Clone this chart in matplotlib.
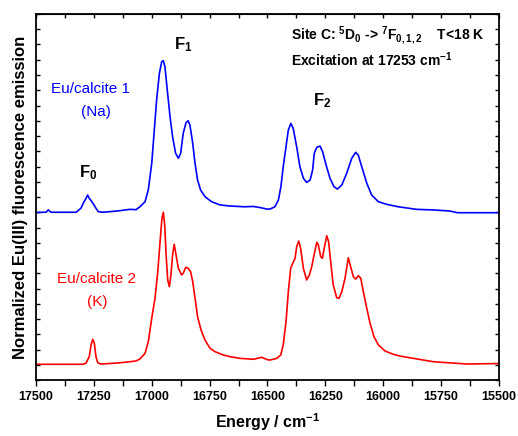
import matplotlib
matplotlib.use("Agg")
import matplotlib.pyplot as plt
from matplotlib.ticker import MultipleLocator, NullFormatter

plt.rcParams['font.family'] = 'Liberation Sans'
plt.rcParams['mathtext.default'] = 'regular'

# Eu/calcite 1 (Na) spectrum, offset upward
energy_na = [17500, 17470, 17457, 17447, 17435, 17400, 17327, 17306, 17296, 17284,
             17277, 17270, 17262, 17252, 17241, 17231, 17212, 17150, 17094, 17068,
             17051, 17029, 17015, 17000, 16990, 16979, 16967, 16957, 16950, 16943,
             16933, 16921, 16910, 16897, 16885, 16875, 16864, 16852, 16843, 16835,
             16823, 16813, 16802, 16789, 16770, 16741, 16705, 16662, 16600, 16561,
             16530, 16503, 16489, 16468, 16453, 16442, 16432, 16420, 16410, 16399,
             16389, 16374, 16360, 16345, 16331, 16316, 16305, 16298, 16287, 16273,
             16262, 16247, 16230, 16213, 16198, 16179, 16158, 16136, 16119, 16108,
             16093, 16071, 16050, 16021, 15985, 15935, 15856, 15780, 15712, 15680,
             15500]
emission_na = [1.098, 1.100, 1.100, 1.115, 1.100, 1.100, 1.100, 1.126, 1.159, 1.191,
               1.213, 1.191, 1.176, 1.154, 1.126, 1.104, 1.100, 1.108, 1.119, 1.117,
               1.136, 1.169, 1.246, 1.421, 1.618, 1.836, 2.011, 2.087, 2.094, 2.054,
               1.902, 1.727, 1.595, 1.487, 1.454, 1.487, 1.618, 1.687, 1.700, 1.672,
               1.552, 1.421, 1.311, 1.246, 1.202, 1.169, 1.148, 1.141, 1.136, 1.138,
               1.130, 1.121, 1.121, 1.136, 1.180, 1.268, 1.399, 1.530, 1.639, 1.683,
               1.650, 1.530, 1.399, 1.323, 1.296, 1.311, 1.377, 1.487, 1.526, 1.534,
               1.497, 1.410, 1.323, 1.268, 1.252, 1.279, 1.355, 1.454, 1.493, 1.475,
               1.399, 1.290, 1.213, 1.169, 1.152, 1.136, 1.119, 1.115, 1.108, 1.097,
               1.097]

# Eu/calcite 2 (K) spectrum
energy_k = [17500, 17300, 17284, 17270, 17262, 17255, 17248, 17241, 17233, 17220,
            17151, 17094, 17068, 17051, 17029, 17015, 17000, 16986, 16974, 16964,
            16956, 16950, 16944, 16938, 16931, 16924, 16917, 16910, 16903, 16895,
            16885, 16871, 16864, 16853, 16842, 16832, 16823, 16813, 16802, 16787,
            16770, 16748, 16727, 16691, 16662, 16619, 16560, 16525, 16500, 16489,
            16460, 16443, 16432, 16420, 16410, 16400, 16391, 16381, 16374, 16365,
            16357, 16345, 16331, 16319, 16309, 16299, 16287, 16281, 16270, 16263,
            16255, 16244, 16236, 16227, 16216, 16201, 16191, 16179, 16165, 16151,
            16141, 16129, 16119, 16108, 16097, 16086, 16071, 16057, 16040, 16021,
            15992, 15957, 15928, 15784, 15640, 15500]
emission_k = [0.103, 0.103, 0.110, 0.153, 0.230, 0.267, 0.241, 0.153, 0.113, 0.105,
              0.111, 0.120, 0.125, 0.138, 0.175, 0.251, 0.405, 0.536, 0.710, 0.907,
              1.060, 1.100, 1.016, 0.820, 0.656, 0.612, 0.689, 0.820, 0.890, 0.820,
              0.732, 0.689, 0.700, 0.739, 0.732, 0.710, 0.645, 0.536, 0.415, 0.328,
              0.262, 0.208, 0.186, 0.164, 0.153, 0.142, 0.136, 0.149, 0.133, 0.131,
              0.142, 0.164, 0.230, 0.382, 0.579, 0.732, 0.765, 0.798, 0.874, 0.911,
              0.864, 0.732, 0.656, 0.689, 0.743, 0.820, 0.903, 0.890, 0.809, 0.798,
              0.864, 0.946, 0.907, 0.776, 0.623, 0.540, 0.536, 0.579, 0.667, 0.802,
              0.743, 0.677, 0.662, 0.684, 0.667, 0.579, 0.470, 0.372, 0.284, 0.230,
              0.190, 0.169, 0.157, 0.120, 0.105, 0.108]

fig = plt.figure(figsize=(5.18, 4.36), dpi=100)
ax = fig.add_axes([0.0695, 0.1284, 0.8938, 0.8395])

ax.plot(energy_na, emission_na, color='#0000ff', lw=1.2, solid_joinstyle='round')
ax.plot(energy_k, emission_k, color='#ff0000', lw=1.2, solid_joinstyle='round')

ax.set_xlim(17500, 15500)
ax.set_ylim(0, 2.4)
ax.xaxis.set_major_locator(MultipleLocator(250))
ax.xaxis.set_minor_locator(MultipleLocator(125))
ax.yaxis.set_major_locator(MultipleLocator(0.1))
ax.yaxis.set_major_formatter(NullFormatter())

# bottom ticks point outward, the other three sides inward
ax.tick_params(axis='x', which='both', direction='out', length=4, width=1,
               labelsize=9, pad=4)
ax.tick_params(axis='y', which='both', direction='in', length=3, width=1,
               left=True, right=True)
for lbl in ax.get_xticklabels():
    lbl.set_fontweight('bold')
for sp in ax.spines.values():
    sp.set_linewidth(1.3)

top = ax.secondary_xaxis('top')
top.xaxis.set_major_locator(MultipleLocator(125))
top.tick_params(direction='in', length=3, width=1, labeltop=False)

ax.set_xlabel('Energy / cm$^{-1}$', fontsize=11.5, fontweight='bold', labelpad=6)
ax.set_ylabel('Normalized Eu(III) fluorescence emission', fontsize=12,
              fontweight='bold', labelpad=2)

ax.text(16865, 2.2, 'F$_1$', fontsize=12, fontweight='bold', ha='center', va='center')
ax.text(17275, 1.36, 'F$_0$', fontsize=12, fontweight='bold', ha='center', va='center')
ax.text(16265, 1.83, 'F$_2$', fontsize=12, fontweight='bold', ha='center', va='center')

ax.text(17265, 1.91, 'Eu/calcite 1', fontsize=11, color='#0000ff', ha='center', va='center')
ax.text(17240, 1.76, '(Na)', fontsize=11, color='#0000ff', ha='center', va='center')
ax.text(17240, 0.66, 'Eu/calcite 2', fontsize=11, color='#ff0000', ha='center', va='center')
ax.text(17235, 0.51, '(K)', fontsize=11, color='#ff0000', ha='center', va='center')

ax.text(16400, 2.26, 'Site C: $^5$D$_0$ -> $^7$F$_{0,1,2}$    T<18 K',
        fontsize=10, fontweight='bold', ha='left', va='center')
ax.text(16400, 2.10, 'Excitation at 17253 cm$^{-1}$',
        fontsize=10, fontweight='bold', ha='left', va='center')

fig.savefig('out.png', dpi=100)
